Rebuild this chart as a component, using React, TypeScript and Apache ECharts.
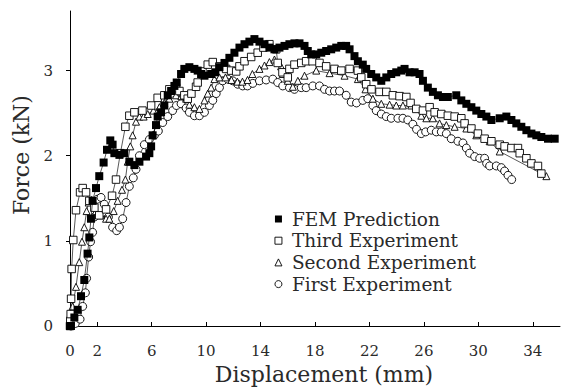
import React, { useEffect, useRef } from "react";
import * as echarts from "echarts";

const xTicks = [0, 2, 6, 10, 14, 18, 22, 26, 30, 34];
const yTicks = [0, 1, 2, 3];

const seriesNames = ["FEM Prediction", "Third Experiment", "Second Experiment", "First Experiment"];

const femData: [number, number][] = [
  [0, 0], [0.07, 0.0], [0.32, 0.1], [0.56, 0.19], [0.81, 0.35], [1.05, 0.54], [1.29, 0.85], [1.42, 1.04],
  [1.54, 1.26], [1.66, 1.47], [1.91, 1.62], [2.15, 1.76], [2.47, 1.92], [2.72, 2.07], [2.96, 2.18],
  [3.13, 2.13], [3.26, 2.03], [3.63, 2.01], [3.99, 2.03], [4.36, 1.93], [4.73, 1.89], [5.1, 1.93],
  [5.59, 1.99], [5.83, 2.03], [5.96, 2.11], [6.07, 2.24], [6.32, 2.36], [6.44, 2.46], [6.69, 2.51],
  [6.93, 2.59], [7.18, 2.71], [7.43, 2.76], [7.67, 2.82], [7.84, 2.86], [8.16, 2.96], [8.4, 3.02],
  [8.77, 3.04], [9.14, 3.02], [9.38, 3.0], [9.63, 2.96], [9.88, 2.94], [10.37, 2.96], [10.68, 2.98],
  [10.98, 3.04], [11.35, 3.09], [11.71, 3.15], [12.08, 3.21], [12.45, 3.27], [12.82, 3.31], [13.18, 3.34],
  [13.55, 3.37], [13.92, 3.34], [14.29, 3.31], [14.65, 3.27], [15.02, 3.25], [15.39, 3.27], [15.76, 3.29],
  [16.12, 3.31], [16.49, 3.32], [16.86, 3.32], [17.23, 3.29], [17.47, 3.23], [17.72, 3.19], [18.09, 3.19],
  [18.46, 3.21], [18.82, 3.23], [19.19, 3.25], [19.56, 3.27], [19.93, 3.29], [20.29, 3.29], [20.54, 3.25],
  [20.9, 3.17], [21.15, 3.11], [21.51, 3.07], [21.76, 3.02], [22.13, 2.96], [22.5, 2.92], [22.87, 2.88],
  [23.24, 2.92], [23.6, 2.96], [23.97, 2.98], [24.34, 3.0], [24.58, 3.02], [24.95, 2.98], [25.32, 2.98],
  [25.68, 2.96], [25.93, 2.88], [26.29, 2.8], [26.66, 2.75], [27.03, 2.71], [27.4, 2.69], [27.76, 2.69],
  [28.38, 2.71], [28.75, 2.65], [29.12, 2.61], [29.49, 2.57], [29.85, 2.53], [30.22, 2.49], [30.59, 2.46],
  [30.96, 2.42], [31.57, 2.44], [32.06, 2.46], [32.43, 2.42], [32.79, 2.38], [33.16, 2.34], [33.53, 2.3],
  [33.9, 2.26], [34.26, 2.24], [34.63, 2.22], [35.12, 2.2], [35.61, 2.2],
];

const thirdData: [number, number][] = [
  [0, 0], [0.02, 0.06], [0.05, 0.14], [0.08, 0.32], [0.12, 0.67], [0.24, 1.01], [0.44, 1.36], [0.74, 1.57],
  [0.93, 1.62], [1.18, 1.57], [1.42, 1.47], [1.79, 1.39], [2.15, 1.3], [2.65, 1.37], [3.09, 1.53],
  [3.38, 1.72], [3.7, 2.03], [4.07, 2.34], [4.36, 2.47], [4.73, 2.51], [5.32, 2.53], [5.96, 2.59],
  [6.44, 2.68], [6.93, 2.71], [7.3, 2.78], [7.79, 2.8], [8.04, 2.76], [8.4, 2.71], [8.65, 2.67],
  [8.92, 2.73], [9.26, 2.81], [9.38, 2.86], [9.73, 2.99], [10.12, 3.07], [10.49, 3.1], [10.98, 3.05],
  [11.47, 3.02], [11.84, 3.0], [12.21, 2.99], [12.45, 3.05], [12.82, 3.11], [13.31, 3.16], [13.79, 3.21],
  [14.21, 3.27], [14.65, 3.31], [15.15, 3.25], [15.26, 3.09], [15.61, 2.98], [16.0, 2.92], [16.12, 3.02],
  [16.49, 3.07], [16.99, 3.09], [17.35, 3.11], [17.82, 3.11], [18.33, 3.09], [18.82, 3.05], [19.43, 3.02],
  [19.93, 3.0], [20.54, 3.02], [21.15, 3.0], [21.4, 2.92], [21.76, 2.84], [22.15, 2.78], [22.74, 2.75],
  [23.24, 2.75], [23.72, 2.71], [24.21, 2.7], [24.71, 2.69], [25.02, 2.62], [25.44, 2.55], [25.93, 2.53],
  [26.42, 2.57], [26.79, 2.51], [27.28, 2.49], [27.76, 2.47], [28.26, 2.46], [28.75, 2.44], [28.99, 2.38],
  [29.49, 2.32], [29.97, 2.26], [30.46, 2.2], [30.96, 2.17], [31.57, 2.13], [31.93, 2.11], [32.43, 2.09],
  [32.91, 2.09], [33.04, 2.03], [33.53, 1.97], [33.9, 1.91], [34.38, 1.88], [34.63, 1.79],
];

const secondData: [number, number][] = [
  [0, 0], [0.02, 0.05], [0.19, 0.23], [0.44, 0.46], [0.68, 0.75], [0.88, 0.99], [1.05, 1.16], [1.22, 1.35],
  [1.37, 1.45], [1.57, 1.48], [1.91, 1.35], [2.28, 1.3], [2.65, 1.26], [2.89, 1.26], [3.21, 1.35],
  [3.5, 1.47], [3.82, 1.6], [4.07, 1.72], [4.24, 1.93], [4.43, 2.11], [4.6, 2.24], [4.85, 2.4], [5.1, 2.46],
  [5.41, 2.46], [5.71, 2.49], [6.13, 2.53], [6.57, 2.57], [6.93, 2.62], [7.3, 2.67], [7.79, 2.71],
  [8.18, 2.7], [8.53, 2.67], [8.77, 2.6], [9.14, 2.57], [9.51, 2.55], [9.88, 2.65], [10.12, 2.73],
  [10.37, 2.8], [10.61, 2.9], [10.98, 2.92], [11.42, 2.92], [11.86, 2.89], [12.3, 2.87], [12.67, 2.87],
  [13.04, 2.89], [13.4, 2.96], [13.92, 3.02], [14.29, 3.06], [14.65, 3.1], [15.02, 3.13], [15.51, 3.05],
  [15.63, 2.96], [16.0, 2.88], [16.37, 2.81], [16.74, 2.88], [17.23, 2.94], [18.09, 3.0], [19.07, 2.97],
  [20.17, 2.94], [21.15, 2.9], [21.71, 2.78], [22.25, 2.67], [22.87, 2.61], [23.48, 2.6], [23.97, 2.59],
  [24.46, 2.59], [25.07, 2.59], [25.81, 2.47], [26.18, 2.44], [26.66, 2.44], [27.15, 2.38], [27.65, 2.36],
  [28.26, 2.34], [29.12, 2.32], [29.85, 2.24], [30.83, 2.17], [31.57, 2.05], [35.0, 1.76],
];

const firstData: [number, number][] = [
  [0.07, 0.0], [0.39, 0.03], [0.74, 0.08], [0.93, 0.23], [1.13, 0.39], [1.22, 0.56], [1.37, 0.81],
  [1.51, 0.99], [1.66, 1.1], [1.79, 1.28], [2.03, 1.49], [2.28, 1.51], [2.52, 1.43], [2.82, 1.28],
  [3.13, 1.16], [3.43, 1.12], [3.63, 1.16], [3.87, 1.26], [4.12, 1.45], [4.36, 1.64], [4.65, 1.74],
  [4.85, 1.84], [5.1, 2.0], [5.46, 2.13], [5.83, 2.19], [6.2, 2.24], [6.49, 2.29], [6.81, 2.39],
  [7.18, 2.46], [7.54, 2.53], [7.82, 2.59], [8.16, 2.61], [8.53, 2.56], [8.77, 2.51], [9.14, 2.47],
  [9.51, 2.47], [9.88, 2.51], [10.24, 2.59], [10.49, 2.65], [10.74, 2.73], [10.98, 2.8], [11.22, 2.88],
  [11.59, 2.9], [11.96, 2.88], [12.32, 2.84], [12.69, 2.82], [13.04, 2.82], [13.43, 2.85], [13.92, 2.88],
  [14.41, 2.89], [14.9, 2.9], [15.26, 2.86], [15.63, 2.82], [16.12, 2.8], [16.49, 2.78], [16.99, 2.8],
  [17.35, 2.8], [17.84, 2.82], [18.33, 2.82], [18.7, 2.78], [19.07, 2.76], [19.43, 2.76], [19.8, 2.76],
  [20.29, 2.71], [20.66, 2.63], [21.05, 2.62], [21.51, 2.65], [21.88, 2.67], [22.25, 2.59], [22.5, 2.53],
  [22.87, 2.49], [23.24, 2.46], [23.6, 2.44], [24.09, 2.44], [24.46, 2.44], [24.82, 2.42], [25.19, 2.37],
  [25.46, 2.31], [25.81, 2.26], [26.13, 2.28], [26.54, 2.3], [26.91, 2.28], [27.28, 2.28], [27.65, 2.26],
  [28.01, 2.2], [28.5, 2.17], [28.87, 2.15], [29.12, 2.09], [29.36, 2.03], [29.73, 1.99], [30.1, 1.97],
  [30.46, 1.97], [30.61, 1.91], [30.83, 1.88], [31.32, 1.88], [31.69, 1.86], [31.93, 1.82], [32.18, 1.77],
  [32.45, 1.72],
];

const FONT = "DejaVu Serif";
const INK = "#2a2a2a";

export default function App() {
  const ref = useRef<HTMLDivElement>(null);
  useEffect(() => {
    if (!ref.current) return;
    const chart = echarts.init(ref.current, undefined, { renderer: "svg" });
    const openStyle = { color: "#fff", borderColor: "#000", borderWidth: 0.9 };
    const lineStyle = { color: "#111", width: 0.7 };
    chart.setOption({
      animation: false,
      backgroundColor: "#fff",
      grid: { left: 70, right: 1, top: 11, bottom: 60, containLabel: false },
      legend: {
        orient: "vertical",
        left: 274.5,
        top: 208.5,
        padding: 0,
        itemWidth: 7,
        itemHeight: 7,
        itemGap: 0.7,
        textStyle: { fontFamily: FONT, fontSize: 18.5, color: INK, lineHeight: 21, padding: [0, 0, 0, 5] },
        data: [
          { name: seriesNames[0], icon: "rect", itemStyle: { color: "#000", borderWidth: 0 } },
          { name: seriesNames[1], icon: "rect", itemStyle: openStyle },
          { name: seriesNames[2], icon: "triangle", itemStyle: openStyle },
          { name: seriesNames[3], icon: "circle", itemStyle: openStyle },
        ],
      },
      xAxis: {
        type: "value",
        min: 0,
        max: 36,
        name: "Displacement (mm)",
        nameLocation: "middle",
        nameGap: 37,
        nameTextStyle: { fontFamily: FONT, fontSize: 22, color: INK, padding: [0, 0, 0, 18] },
        axisLine: { show: true, onZero: false, lineStyle: { color: "#000", width: 1 } },
        axisTick: { show: true, inside: true, length: 4, customValues: xTicks, lineStyle: { color: "#000" } },
        axisLabel: { customValues: xTicks, fontFamily: FONT, fontSize: 15, color: INK, margin: 17 },
        splitLine: { show: false },
      },
      yAxis: {
        type: "value",
        min: 0,
        max: 3.7,
        name: "Force (kN)",
        nameLocation: "middle",
        nameGap: 36,
        nameTextStyle: { fontFamily: FONT, fontSize: 22, color: INK, padding: [0, 0, 0, 27] },
        axisLine: { show: true, onZero: false, lineStyle: { color: "#000", width: 1 } },
        axisTick: { show: true, inside: false, length: 4, customValues: yTicks, lineStyle: { color: "#000" } },
        axisLabel: { customValues: yTicks, fontFamily: FONT, fontSize: 15, color: INK, margin: 17 },
        splitLine: { show: false },
      },
      series: [
        {
          name: seriesNames[3], type: "line", data: firstData, symbol: "circle", symbolSize: 8,
          showAllSymbol: true, lineStyle, itemStyle: openStyle, z: 2,
        },
        {
          name: seriesNames[2], type: "line", data: secondData, symbol: "triangle", symbolSize: 7,
          showAllSymbol: true, lineStyle, itemStyle: openStyle, z: 3,
        },
        {
          name: seriesNames[1], type: "line", data: thirdData, symbol: "rect", symbolSize: 7.5,
          showAllSymbol: true, lineStyle, itemStyle: openStyle, z: 4,
        },
        {
          name: seriesNames[0], type: "line", data: femData, symbol: "rect", symbolSize: 8,
          showAllSymbol: true, lineStyle, itemStyle: { color: "#000", borderWidth: 0 }, z: 5,
        },
      ],
    });
    return () => chart.dispose();
  }, []);
  return <div ref={ref} style={{ width: 561, height: 390, position: "absolute", left: 0, top: 0 }} />;
}
